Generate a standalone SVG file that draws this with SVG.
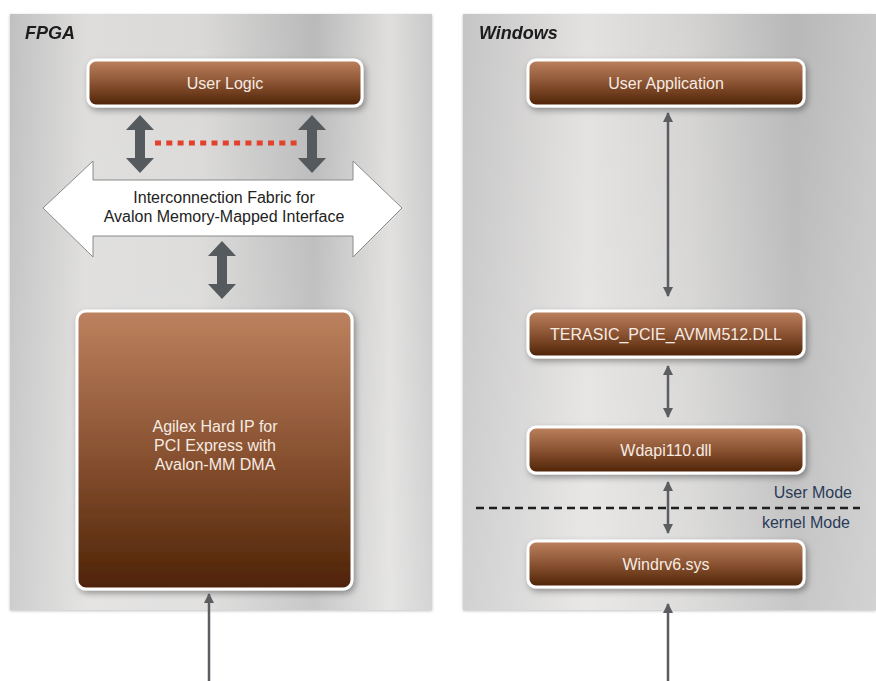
<svg xmlns="http://www.w3.org/2000/svg" width="876" height="681" viewBox="0 0 876 681">
<defs>
<linearGradient id="panelL" x1="0" y1="0" x2="1" y2="0">
<stop offset="0" stop-color="#bdbdbd"/>
<stop offset="0.18" stop-color="#dcdbda"/>
<stop offset="0.45" stop-color="#d8d7d6"/>
<stop offset="0.72" stop-color="#b6b6b6"/>
<stop offset="0.9" stop-color="#dedddc"/>
<stop offset="1" stop-color="#c6c6c6"/>
</linearGradient>
<linearGradient id="panelR" x1="0" y1="0" x2="1" y2="0">
<stop offset="0" stop-color="#c2c2c2"/>
<stop offset="0.3" stop-color="#e2e0df"/>
<stop offset="0.55" stop-color="#d2d1d0"/>
<stop offset="0.8" stop-color="#b4b4b4"/>
<stop offset="1" stop-color="#c4c4c4"/>
</linearGradient>
<linearGradient id="panelV" x1="0" y1="0" x2="0" y2="1">
<stop offset="0" stop-color="#ffffff" stop-opacity="0.05"/>
<stop offset="0.5" stop-color="#ffffff" stop-opacity="0.15"/>
<stop offset="1" stop-color="#ffffff" stop-opacity="0.25"/>
</linearGradient>
<linearGradient id="brown" x1="0" y1="0" x2="0" y2="1">
<stop offset="0" stop-color="#bd825f"/>
<stop offset="0.5" stop-color="#8a5332"/>
<stop offset="1" stop-color="#4e2306"/>
</linearGradient>
<filter id="shadow" x="-10%" y="-10%" width="130%" height="140%">
<feDropShadow dx="2" dy="3" stdDeviation="3" flood-color="#000" flood-opacity="0.35"/>
</filter>
<filter id="pshadow" x="-5%" y="-5%" width="110%" height="110%">
<feDropShadow dx="0" dy="1" stdDeviation="1.5" flood-color="#000" flood-opacity="0.25"/>
</filter>
<marker id="ah" viewBox="0 0 10 10" refX="9" refY="5" markerWidth="4" markerHeight="4" orient="auto-start-reverse" markerUnits="strokeWidth">
<path d="M0,0 L10,5 L0,10 Z" fill="#5b5d60"/>
</marker>
<style>
.box{fill:url(#brown);stroke:#ffffff;stroke-width:3;filter:url(#shadow)}
.bt{font-family:"Liberation Sans",Arial,sans-serif;font-size:16px;fill:#f6ebe3;text-anchor:middle}
.title{font-family:"Liberation Sans",Arial,sans-serif;font-size:18px;font-weight:bold;font-style:italic;fill:#1a1a1a}
.mode{font-family:"Liberation Sans",Arial,sans-serif;font-size:16px;fill:#2a3b58;text-anchor:end}
.fab{font-family:"Liberation Sans",Arial,sans-serif;font-size:16px;fill:#222;text-anchor:middle}
.thin{stroke:#5b5d60;stroke-width:2.5;fill:none}
.fat{fill:#555a5e}
</style>
</defs>
<rect width="876" height="681" fill="#ffffff"/>

<g id="panel-fpga" filter="url(#pshadow)">
<rect x="10" y="14" width="422" height="596" fill="url(#panelL)"/>
<rect x="10" y="14" width="422" height="596" fill="url(#panelV)"/>
<text class="title" x="25" y="39">FPGA</text>
</g>
<g id="panel-windows" filter="url(#pshadow)">
<rect x="463" y="14" width="413" height="596" fill="url(#panelR)"/>
<rect x="463" y="14" width="413" height="596" fill="url(#panelV)"/>
<text class="title" x="479" y="39">Windows</text>
</g>

<g id="interconnect">
<path d="M43,208 L93,161 L93,180 L353,180 L353,161 L402,208 L353,257 L353,236 L93,236 L93,257 Z" fill="#ffffff" stroke="#8a8a8a" stroke-width="1"/>
<text class="fab" x="224" y="203">Interconnection Fabric for</text>
<text class="fab" x="224" y="222">Avalon Memory-Mapped Interface</text>
</g>

<g id="user-logic">
<rect class="box" x="88" y="60" width="274" height="46" rx="8"/>
<text class="bt" x="225" y="89">User Logic</text>
</g>

<g id="agilex">
<rect class="box" x="77" y="311" width="275" height="278" rx="9"/>
<text class="bt" x="215" y="432">Agilex Hard IP for</text>
<text class="bt" x="215" y="451">PCI Express with</text>
<text class="bt" x="215" y="470">Avalon-MM DMA</text>
</g>

<g id="user-app">
<rect class="box" x="528" y="60" width="276" height="46" rx="8"/>
<text class="bt" x="666" y="89">User Application</text>
</g>

<g id="terasic-dll">
<rect class="box" x="528" y="311" width="276" height="46" rx="8"/>
<text class="bt" x="666" y="340">TERASIC_PCIE_AVMM512.DLL</text>
</g>

<g id="wdapi">
<rect class="box" x="528" y="427" width="276" height="46" rx="8"/>
<text class="bt" x="666" y="456">Wdapi110.dll</text>
</g>

<g id="windrv">
<rect class="box" x="528" y="541" width="276" height="46" rx="8"/>
<text class="bt" x="666" y="570">Windrv6.sys</text>
</g>

<g id="mode-boundary">
<line x1="476" y1="508" x2="860" y2="508" stroke="#1f1f1f" stroke-width="2.5" stroke-dasharray="8,5"/>
<text class="mode" x="852" y="498">User Mode</text>
<text class="mode" x="850" y="528">kernel Mode</text>
</g>

<g id="connectors">
<path class="fat" d="M140,115 L154,130 L145,130 L145,158 L154,158 L140,173 L126,158 L135,158 L135,130 L126,130 Z"/>
<path class="fat" d="M312,115 L326,130 L317,130 L317,158 L326,158 L312,173 L298,158 L307,158 L307,130 L298,130 Z"/>
<path class="fat" d="M222,241 L236,256 L227,256 L227,284 L236,284 L222,299 L208,284 L217,284 L217,256 L208,256 Z"/>
<line x1="155" y1="143" x2="297" y2="143" stroke="#e2412b" stroke-width="5" stroke-dasharray="6,5.3"/>
<line class="thin" x1="209" y1="681" x2="209" y2="594" marker-end="url(#ah)"/>
<line class="thin" x1="668" y1="113" x2="668" y2="296" marker-start="url(#ah)" marker-end="url(#ah)"/>
<line class="thin" x1="668" y1="366" x2="668" y2="417" marker-start="url(#ah)" marker-end="url(#ah)"/>
<line class="thin" x1="668" y1="482" x2="668" y2="533" marker-start="url(#ah)" marker-end="url(#ah)"/>
<line class="thin" x1="668" y1="681" x2="668" y2="604" marker-end="url(#ah)"/>
</g>
</svg>
